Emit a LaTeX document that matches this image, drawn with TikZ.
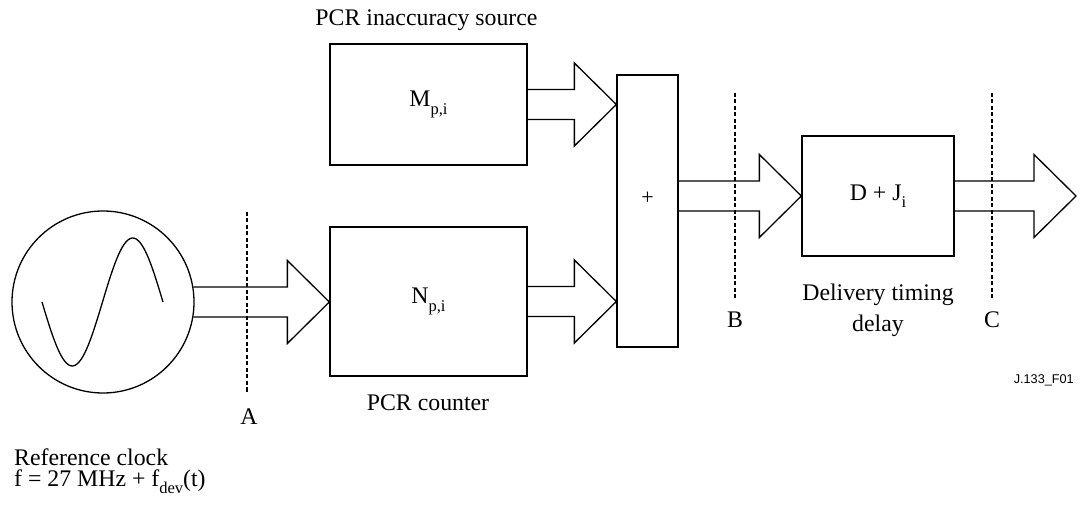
\documentclass[tikz,border=0pt]{standalone}
\usepackage{fontspec}
\setmainfont{Liberation Serif}
\newfontfamily\figsans{Liberation Sans}
\usetikzlibrary{calc}
\newcommand\sbs[1]{\raisebox{-0.3em}{\fontsize{16.5}{16.5}\selectfont #1}}
\begin{document}
\begin{tikzpicture}[x=1pt,y=-1pt,
  every node/.style={font=\fontsize{23.8}{29}\selectfont, inner sep=0pt},
  blockbox/.style={draw, line width=1.3pt, inner sep=0pt},
  arrowline/.style={draw, line width=1.3pt, line join=miter},
  cutline/.style={line width=1.8pt, dash pattern=on 4pt off 2.5pt},
  sineline/.style={line width=1.3pt},
  lbl/.style={}]
\useasboundingbox (0,0) rectangle (1080,513);

% clock
\node[circle, draw, line width=1.3pt, minimum size=182pt] (clock) at (103,302) {};
\draw[sineline] plot[smooth, domain=0:121, samples=60] ({42+\x}, {302+64*sin(2.97521*\x)});

% boxes
\node[blockbox, minimum width=197pt, minimum height=121pt] (M) at (428.5,104.5) {M\sbs{p,i}};
\node[blockbox, minimum width=197pt, minimum height=149pt] (N) at (428.5,301.5) {N\sbs{p,i}};
\node[blockbox, minimum width=61pt, minimum height=272pt,
      label={[yshift=13pt, font=\fontsize{22}{25}\selectfont]center:+}] (P) at (647.5,211) {};
\node[blockbox, minimum width=152pt, minimum height=120pt] (D) at (878,196) {D + J\sbs{i}};
\coordinate (out) at (1076,196);

% block arrows
\newcommand\blockarrow[2]{%
  \draw[arrowline] let \p1=(#1), \p2=(#2) in
   (\x1,{\y1+15pt}) -- ({\x2-42pt},{\y1+15pt}) -- ({\x2-42pt},{\y1+41.5pt}) --
   (\x2,\y1) -- ({\x2-42pt},{\y1-41.5pt}) -- ({\x2-42pt},{\y1-15pt}) -- (\x1,{\y1-15pt});}
\blockarrow{$(clock.east)+(-1.3,0)$}{N.west}
\blockarrow{M.east}{P.west |- M.east}
\blockarrow{N.east}{P.west |- N.east}
\blockarrow{P.east |- D.west}{D.west}
\blockarrow{D.east}{out}

% cut lines
\coordinate (Atop) at (247,212); \coordinate (Abot) at (247,392);
\coordinate (Btop) at (735,93);  \coordinate (Bbot) at (735,298);
\coordinate (Ctop) at (992,93);  \coordinate (Cbot) at (992,298);
\draw[cutline] (Atop) -- (Abot);
\draw[cutline] (Btop) -- (Bbot);
\draw[cutline] (Ctop) -- (Cbot);

% labels
\node[lbl] (la) at (249,417) {A};
\node[lbl] (lb) at (735,320) {B};
\node[lbl] (lc) at (992,320) {C};
\node[lbl] (srcl) at (426.5,20) {PCR inaccuracy source};
\node[lbl] (cntl) at (428,403) {PCR counter};
\node[lbl, align=center, font=\fontsize{23.8}{31}\selectfont] (dell) at (878,310) {Delivery timing\\delay};
\node[lbl, anchor=west] (refl) at (14,457) {Reference clock};
\node[lbl, anchor=west] (fl) at (14,482) {f = 27 MHz + f\sbs{dev}(t)};
\node[anchor=east, font=\figsans\fontsize{12.7}{15}\selectfont] (fig) at (1074,380) {J.133\_F01};
\end{tikzpicture}
\end{document}
